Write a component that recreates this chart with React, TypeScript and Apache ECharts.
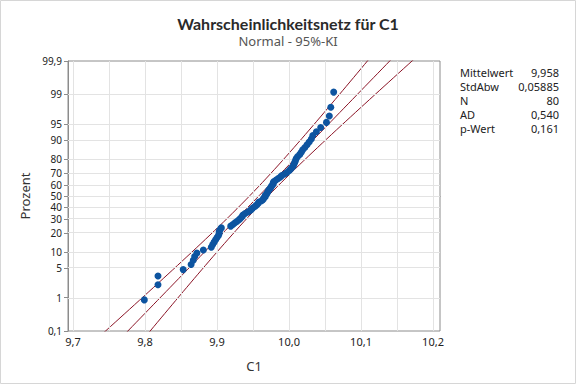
import React, { useEffect, useRef } from "react";
import * as echarts from "echarts";

// ---- data ----
const sampleValues: number[] = [
  9.799, 9.818, 9.818, 9.853, 9.864, 9.867, 9.869, 9.872, 9.881, 9.892,
  9.894, 9.896, 9.898, 9.9, 9.902, 9.903, 9.903, 9.904, 9.906, 9.919,
  9.922, 9.925, 9.928, 9.931, 9.933, 9.935, 9.936, 9.939, 9.943, 9.946,
  9.948, 9.95, 9.953, 9.955, 9.957, 9.958, 9.962, 9.964, 9.965, 9.967,
  9.967, 9.969, 9.97, 9.971, 9.972, 9.974, 9.975, 9.976, 9.978, 9.978,
  9.979, 9.982, 9.985, 9.988, 9.99, 9.994, 9.997, 10.0, 10.002, 10.004,
  10.006, 10.007, 10.008, 10.009, 10.01, 10.012, 10.015, 10.017, 10.019, 10.022,
  10.025, 10.028, 10.031, 10.033, 10.038, 10.044, 10.052, 10.056, 10.058, 10.062,
];
const percentTicks: number[] = [0.1, 1, 5, 10, 20, 30, 40, 50, 60, 70, 80, 90, 95, 99, 99.9];
const percentTickLabels: string[] = ["0,1", "1", "5", "10", "20", "30", "40", "50", "60", "70", "80", "90", "95", "99", "99,9"];
const xTicks: number[] = [9.7, 9.8, 9.9, 10.0, 10.1, 10.2];
const xGridValues: number[] = [9.7, 9.75, 9.8, 9.85, 9.9, 9.95, 10.0, 10.05, 10.1, 10.15, 10.2];
const fitMean = 9.958;
const fitSd = 0.05885;
const sampleN = 80;
const statLabels: string[] = ["Mittelwert", "StdAbw", "N", "AD", "p-Wert"];
const statValues: string[] = ["9,958", "0,05885", "80", "0,540", "0,161"];

// inverse standard normal CDF (Acklam)
function invNorm(p: number): number {
  const a = [-3.969683028665376e1, 2.209460984245205e2, -2.759285104469687e2, 1.38357751867269e2, -3.066479806614716e1, 2.506628277459239];
  const b = [-5.447609879822406e1, 1.615858368580409e2, -1.556989798598866e2, 6.680131188771972e1, -1.328068155288572e1];
  const c = [-7.784894002430293e-3, -3.223964580411365e-1, -2.400758277161838, -2.549732539343734, 4.374664141464968, 2.938163982698783];
  const d = [7.784695709041462e-3, 3.224671290700398e-1, 2.445134137142996, 3.754408661907416];
  const pl = 0.02425;
  if (p < pl) {
    const q = Math.sqrt(-2 * Math.log(p));
    return (((((c[0] * q + c[1]) * q + c[2]) * q + c[3]) * q + c[4]) * q + c[5]) / ((((d[0] * q + d[1]) * q + d[2]) * q + d[3]) * q + 1);
  }
  if (p > 1 - pl) {
    const q = Math.sqrt(-2 * Math.log(1 - p));
    return -(((((c[0] * q + c[1]) * q + c[2]) * q + c[3]) * q + c[4]) * q + c[5]) / ((((d[0] * q + d[1]) * q + d[2]) * q + d[3]) * q + 1);
  }
  const q = p - 0.5;
  const r = q * q;
  return ((((((a[0] * r + a[1]) * r + a[2]) * r + a[3]) * r + a[4]) * r + a[5]) * q) / (((((b[0] * r + b[1]) * r + b[2]) * r + b[3]) * r + b[4]) * r + 1);
}

export default function App() {
  const ref = useRef<HTMLDivElement>(null);
  useEffect(() => {
    if (!ref.current) return;
    const chart = echarts.init(ref.current, null, { renderer: "svg" });
    const zTicks = percentTicks.map((p) => invNorm(p / 100));
    const zMax = zTicks[zTicks.length - 1];
    const zMin = zTicks[0];
    const sorted = [...sampleValues].sort((a, b) => a - b);
    const n = sorted.length;
    const points = sorted.map((v, i) => [v, invNorm((i + 1 - 0.3) / (n + 0.4))]);

    const zSteps: number[] = [];
    for (let z = zMin - 0.2; z <= zMax + 0.21; z += 0.1) zSteps.push(z);
    const fit = zSteps.map((z) => [fitMean + fitSd * z, z]);
    const half = (z: number) => 1.959964 * fitSd * Math.sqrt((1 + (z * z) / 2) / sampleN);
    const lower = zSteps.map((z) => [fitMean + fitSd * z - half(z), z]);
    const upper = zSteps.map((z) => [fitMean + fitSd * z + half(z), z]);

    const labelFor = (v: number) => {
      let best = 0;
      let bd = Infinity;
      zTicks.forEach((z, i) => {
        const dd = Math.abs(z - v);
        if (dd < bd) { bd = dd; best = i; }
      });
      return percentTickLabels[best];
    };

    const font = "'Segoe UI', 'Noto Sans', sans-serif";
    const axisColor = "#8c8c8c";
    const gridColor = "#e3e3e3";
    const lineColor = "#8b1426";

    chart.setOption({
      animation: false,
      backgroundColor: "#ffffff",
      textStyle: { fontFamily: font },
      title: {
        text: "Wahrscheinlichkeitsnetz für C1",
        subtext: "Normal - 95%-KI",
        left: "center",
        top: 10,
        itemGap: 3,
        textStyle: { fontSize: 16, fontWeight: "bold", color: "#2a2a2a", fontFamily: "Lato, 'Noto Sans', sans-serif" },
        subtextStyle: { fontSize: 13, color: "#555", fontFamily: font },
      },
      grid: {
        left: 68,
        top: 61,
        right: 136,
        bottom: 53,
        show: true,
        borderColor: axisColor,
        borderWidth: 1,
        backgroundColor: "#fff",
      },
      xAxis: {
        type: "value",
        min: 9.693,
        max: 10.2097,
        name: "C1",
        nameLocation: "middle",
        nameGap: 28,
        nameTextStyle: { fontSize: 13, color: "#333" },
        axisLine: { show: true, lineStyle: { color: axisColor } },
        axisTick: { show: true, length: 4, customValues: xTicks, lineStyle: { color: axisColor } },
        axisLabel: {
          customValues: xTicks,
          fontSize: 11,
          color: "#222",
          margin: 5,
          formatter: (v: number) => v.toFixed(1).replace(".", ","),
        },
        splitLine: { show: false },
      },
      yAxis: {
        type: "value",
        min: zMin,
        max: zMax,
        name: "Prozent",
        nameLocation: "middle",
        nameRotate: 90,
        nameGap: 32,
        nameTextStyle: { fontSize: 13, color: "#333" },
        axisLine: { show: true, lineStyle: { color: axisColor } },
        axisTick: { show: true, length: 4, customValues: zTicks, lineStyle: { color: axisColor } },
        axisLabel: {
          customValues: zTicks,
          fontSize: 10,
          lineHeight: 8,
          color: "#222",
          margin: 6,
          formatter: (v: number) => labelFor(v),
        },
        splitLine: { show: false },
      },
      graphic: [
        {
          type: "rect",
          shape: { x: 0.5, y: 0.5, width: 575, height: 383 },
          style: { fill: "none", stroke: "#d6d6d6", lineWidth: 1 },
          silent: true,
        },
        ...statLabels.map((t, i) => ({
          type: "text",
          left: 460,
          top: 67 + i * 14,
          style: { text: t, fontSize: 11, fill: "#222", fontFamily: font },
        })),
        ...statValues.map((t, i) => ({
          type: "text",
          right: 17,
          top: 67 + i * 14,
          style: { text: t, fontSize: 11, fill: "#222", fontFamily: font, align: "right" },
        })),
      ],
      series: [
        {
          type: "line",
          data: [],
          z: 1,
          silent: true,
          markLine: {
            silent: true,
            symbol: "none",
            label: { show: false },
            lineStyle: { color: gridColor, type: "solid", width: 1 },
            data: [
              ...xGridValues.map((x) => ({ xAxis: x })),
              ...zTicks.slice(1, -1).map((z) => ({ yAxis: z })),
            ],
          },
        },
        {
          type: "line",
          data: lower,
          showSymbol: false,
          symbol: "none",
          z: 3,
          lineStyle: { color: lineColor, width: 1 },
          silent: true,
        },
        {
          type: "line",
          data: fit,
          showSymbol: false,
          symbol: "none",
          z: 3,
          lineStyle: { color: lineColor, width: 1 },
          silent: true,
        },
        {
          type: "line",
          data: upper,
          showSymbol: false,
          symbol: "none",
          z: 3,
          lineStyle: { color: lineColor, width: 1 },
          silent: true,
        },
        {
          type: "scatter",
          data: points,
          symbolSize: 7,
          z: 5,
          itemStyle: { color: "#0d54a0", opacity: 1 },
        },
      ],
    });
    return () => chart.dispose();
  }, []);
  return (
    <div
      ref={ref}
      style={{ position: "fixed", left: 0, top: 0, width: 576, height: 384 }}
    />
  );
}
